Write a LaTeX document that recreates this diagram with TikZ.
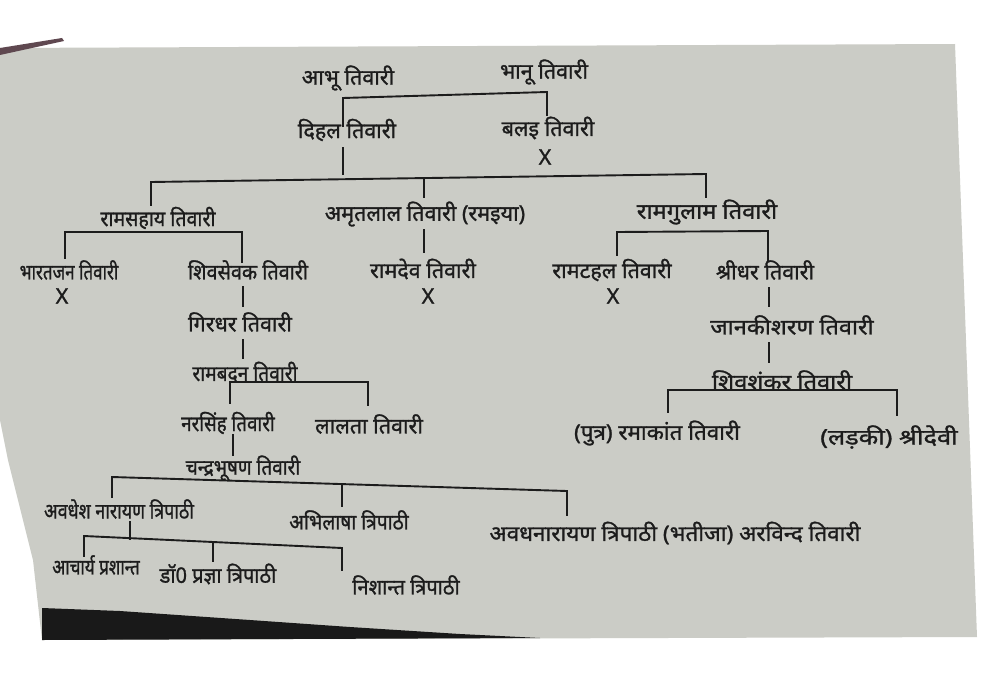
\documentclass[tikz,border=0pt]{standalone}
\usepackage{fontspec}
\usepackage{graphicx}
\newfontfamily\hin[Script=Devanagari,FakeBold=1.2]{Noto Sans}
\newcommand{\sqz}[2]{\scalebox{#1}[1]{#2}}
\definecolor{paper}{RGB}{203,204,198}
\definecolor{ink}{RGB}{28,28,28}
\definecolor{streak}{RGB}{95,72,80}
\begin{document}
\begin{tikzpicture}[x=1pt,y=-1pt]
\tikzset{
  person/.style={inner sep=0pt, font=\hin\fontsize{21.5}{24}\selectfont, text=ink},
  cross/.style={inner sep=0pt, font=\hin\fontsize{21.5}{24}\selectfont, text=ink},
  link/.style={draw=ink, line width=1.9pt, line cap=rect}
}
\useasboundingbox (0,0) rectangle (1000,677);
\fill[white] (0,0) rectangle (1000,677);
% paper
\fill[paper] (0,48) -- (955,44) -- (977,637) -- (42,640) -- (33,560) -- (8,460) -- (0,420) -- cycle;
\fill[streak] (0,48) -- (62,38) -- (64,41) -- (0,55) -- cycle;
\fill[black!90] (42,608) -- (120,611) -- (250,620) -- (350,627) -- (460,634) -- (540,638) -- (42,640) -- cycle;
% people
\node[person] (abhu) at (348,78) {आभू तिवारी};
\node[person] (bhanu) at (544,72) {भानू तिवारी};
\node[person] (dihal) at (347,130) {दिहल तिवारी};
\node[person] (balai) at (548,128) {बलइ तिवारी};
\node[cross] (xbalai) at (545,157) {X};
\node[person] (ramsahay) at (158,218) {\sqz{0.91}{रामसहाय तिवारी}};
\node[person] (amrit) at (425,214) {अमृतलाल तिवारी (रमइया)};
\node[person] (ramgulam) at (707,212) {\sqz{1.1}{रामगुलाम तिवारी}};
\node[person] (bharat) at (69,270) {\sqz{0.79}{भारतजन तिवारी}};
\node[cross] (xbharat) at (62,296) {X};
\node[person] (shivsevak) at (248,270) {\sqz{0.92}{शिवसेवक तिवारी}};
\node[person] (ramdev) at (423,269) {रामदेव तिवारी};
\node[cross] (xramdev) at (428,296) {X};
\node[person] (ramtahal) at (612,270) {रामटहल तिवारी};
\node[cross] (xramtahal) at (613,296) {X};
\node[person] (shridhar) at (765,270) {श्रीधर तिवारी};
\node[person] (janaki) at (792,325) {\sqz{1.09}{जानकीशरण तिवारी}};
\node[person] (shivshankar) at (782,380) {\sqz{1.1}{शिवशंकर तिवारी}};
\node[person] (ramakant) at (657,433) {\sqz{1.04}{(पुत्र) रमाकांत तिवारी}};
\node[person] (shridevi) at (889,437) {\sqz{1.18}{(लड़की) श्रीदेवी}};
\node[person] (girdhar) at (240,322) {गिरधर तिवारी};
\node[person] (rambadan) at (245,372) {\sqz{0.89}{रामबदन तिवारी}};
\node[person] (narsingh) at (228,423) {\sqz{0.87}{नरसिंह तिवारी}};
\node[person] (lalta) at (369,424) {लालता तिवारी};
\node[person] (chandra) at (243,468) {\sqz{0.88}{चन्द्रभूषण तिवारी}};
\node[person] (awadhesh) at (119,509) {\sqz{0.83}{अवधेश नारायण त्रिपाठी}};
\node[person] (abhilasha) at (349,520) {\sqz{0.89}{अभिलाषा त्रिपाठी}};
\node[person] (awadh) at (675,533) {\sqz{1.045}{अवधनारायण त्रिपाठी (भतीजा) अरविन्द तिवारी}};
\node[person] (acharya) at (96,565) {\sqz{0.79}{आचार्य प्रशान्त}};
\node[person] (pragya) at (218,574) {\sqz{0.93}{डॉ0 प्रज्ञा त्रिपाठी}};
\node[person] (nishant) at (406,585) {\sqz{0.93}{निशान्त त्रिपाठी}};
% junction coordinates
\coordinate (aL) at (343,98); \coordinate (aR) at (547,92);
\coordinate (aLe) at (343,126); \coordinate (aRe) at (547,115);
\coordinate (dA) at (343,148); \coordinate (dB) at (343,174);
\coordinate (gL) at (151,182); \coordinate (gR) at (706,174); \coordinate (gM) at (424,178);
\coordinate (gLe) at (151,205); \coordinate (gRe) at (706,197); \coordinate (gMe) at (424,197);
\coordinate (rsL) at (65,232); \coordinate (rsR) at (242,232);
\coordinate (rsLe) at (65,258); \coordinate (rsRe) at (242,262);
\coordinate (amA) at (424,230); \coordinate (amB) at (424,252);
\coordinate (rgL) at (617,232); \coordinate (rgR) at (768,231);
\coordinate (rgLe) at (617,255); \coordinate (rgRe) at (768,260);
\coordinate (shA) at (769,288); \coordinate (shB) at (769,306);
\coordinate (jaA) at (769,343); \coordinate (jaB) at (769,362);
\coordinate (ssL) at (668,390); \coordinate (ssR) at (897,390);
\coordinate (ssLe) at (668,412); \coordinate (ssRe) at (897,415);
\coordinate (svA) at (243,287); \coordinate (svB) at (243,306);
\coordinate (giA) at (243,340); \coordinate (giB) at (243,358);
\coordinate (rbL) at (230,382); \coordinate (rbR) at (368,382);
\coordinate (rbLe) at (230,403); \coordinate (rbRe) at (368,405);
\coordinate (nsA) at (233,435); \coordinate (nsB) at (233,455);
\coordinate (cbL) at (112,477); \coordinate (cbR) at (567,491); \coordinate (cbM) at (342,484);
\coordinate (cbLe) at (112,497); \coordinate (cbRe) at (567,515); \coordinate (cbMe) at (342,506);
\coordinate (awA) at (130,522); \coordinate (awB) at (130,539);
\coordinate (anL) at (84,536); \coordinate (anR) at (342,548); \coordinate (anM) at (213,542);
\coordinate (anLe) at (84,556); \coordinate (anRe) at (342,570); \coordinate (anMe) at (213,561);
% connectors
\draw[link] (aLe) -- (aL) -- (aR) -- (aRe);
\draw[link] (dA) -- (dB);
\draw[link] (gLe) -- (gL) -- (gR) -- (gRe);
\draw[link] (gM) -- (gMe);
\draw[link] (rsLe) -- (rsL) -- (rsR) -- (rsRe);
\draw[link] (amA) -- (amB);
\draw[link] (rgLe) -- (rgL) -- (rgR) -- (rgRe);
\draw[link] (shA) -- (shB);
\draw[link] (jaA) -- (jaB);
\draw[link] (ssLe) -- (ssL) -- (ssR) -- (ssRe);
\draw[link] (svA) -- (svB);
\draw[link] (giA) -- (giB);
\draw[link] (rbLe) -- (rbL) -- (rbR) -- (rbRe);
\draw[link] (nsA) -- (nsB);
\draw[link] (cbLe) -- (cbL) -- (cbR) -- (cbRe);
\draw[link] (cbM) -- (cbMe);
\draw[link] (awA) -- (awB);
\draw[link] (anLe) -- (anL) -- (anR) -- (anRe);
\draw[link] (anM) -- (anMe);
\end{tikzpicture}
\end{document}
